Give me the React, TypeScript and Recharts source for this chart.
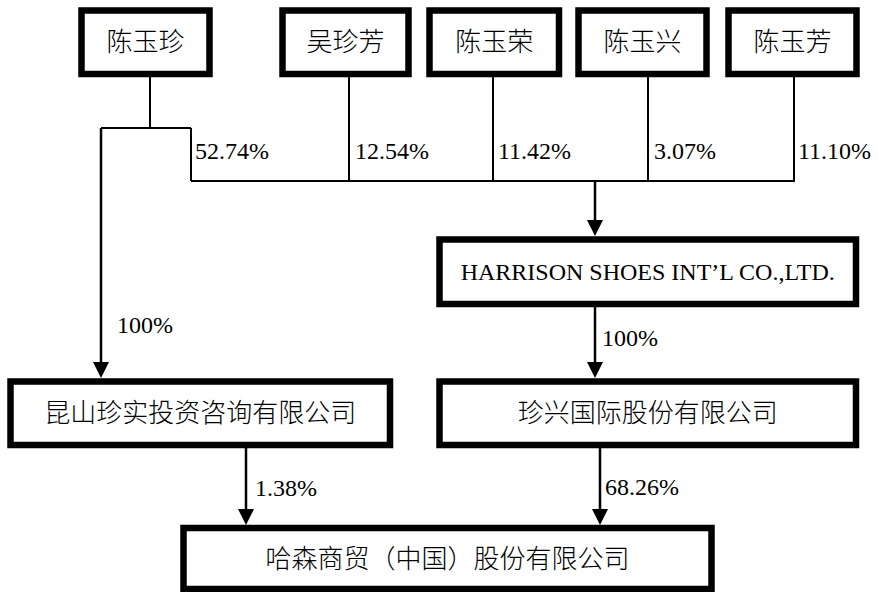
import React from 'react';
import { ScatterChart, Scatter, XAxis, YAxis, ReferenceArea, ReferenceLine } from 'recharts';

// shareholders and their stakes in HARRISON
const ownerNames = ['陈玉珍', '吴珍芳', '陈玉荣', '陈玉兴', '陈玉芳'];
const ownerShares = ['52.74%', '12.54%', '11.42%', '3.07%', '11.10%'];

// companies: HARRISON, 昆山, 珍兴, 哈森
const companyNames = [
  'HARRISON SHOES INT’L CO.,LTD.',
  '昆山珍实投资咨询有限公司',
  '珍兴国际股份有限公司',
  '哈森商贸（中国）股份有限公司',
];
// 陈玉珍→昆山, HARRISON→珍兴, 昆山→哈森, 珍兴→哈森
const holdingShares = ['100%', '100%', '1.38%', '68.26%'];

// layout in diagram units (1 unit = 1px)
const W = 878;
const H = 592;
const ownerBoxX = [[81.5, 209.5], [282.5, 408.5], [429.5, 559], [578.5, 706.5], [728.5, 856.5]];
const ownerBoxY = [10.5, 74];
const ownerDropX = [150, 349, 493, 648, 794];
const ownerLabelX = [195, 355, 498, 654, 798];
const companyBoxes = [
  { x1: 439.5, x2: 856, y1: 239.5, y2: 304 },
  { x1: 10.5, x2: 390, y1: 381.5, y2: 445 },
  { x1: 439.5, x2: 856, y1: 381.5, y2: 445 },
  { x1: 183.5, x2: 711.5, y1: 528, y2: 589 },
];
const holdingLabelPos = [[117, 325], [602, 338], [255, 488], [605, 487]];

const connectors = [
  [150, 77, 150, 128],
  [101, 128, 191, 128],
  [191, 128, 191, 181],
  [191, 181, 795, 181],
  ...ownerDropX.slice(1).map((x) => [x, 77, x, 181]),
];

const arrows = [
  { x: 595, y1: 181, y2: 236 },
  { x: 101, y1: 128, y2: 378 },
  { x: 595, y1: 307, y2: 378 },
  { x: 246, y1: 448, y2: 525 },
  { x: 600, y1: 448, y2: 525 },
];

const shareLabels = [
  ...ownerShares.map((t, i) => ({ x: ownerLabelX[i], y: 151, text: t })),
  ...holdingShares.map((t, i) => ({ x: holdingLabelPos[i][0], y: holdingLabelPos[i][1], text: t })),
];
const arrowTips = arrows.map((a) => ({ x: a.x, y: a.y2 }));

const CJK = "'Noto Sans CJK SC', sans-serif";
const LATIN = "'Liberation Serif', serif";
const BORDER = 6.5;

const Triangle = (props: any) => {
  const { cx, cy } = props;
  return <polygon points={`${cx - 8},${cy - 16} ${cx + 8},${cy - 16} ${cx},${cy}`} fill="#000" />;
};

const ShareText = (props: any) => {
  const { cx, cy, payload } = props;
  return (
    <text
      x={cx}
      y={cy}
      style={{ fontFamily: LATIN, fontSize: 24 }}
      fill="#000"
      textAnchor="start"
      dominantBaseline="central"
    >
      {payload.text}
    </text>
  );
};

export default function App() {
  return (
    <div style={{ width: W, height: H, background: '#fff' }}>
      <style>{'body{margin:0}'}</style>
      <ScatterChart width={W} height={H} margin={{ top: 0, right: 0, bottom: 0, left: 0 }}>
        <XAxis type="number" dataKey="x" domain={[0, W]} allowDataOverflow hide />
        <YAxis type="number" dataKey="y" domain={[0, H]} allowDataOverflow reversed hide />

        {connectors.map((c, i) => (
          <ReferenceLine
            key={`c${i}`}
            segment={[{ x: c[0], y: c[1] }, { x: c[2], y: c[3] }]}
            stroke="#000"
            strokeWidth={2}
          />
        ))}
        {arrows.map((a, i) => (
          <ReferenceLine
            key={`a${i}`}
            segment={[{ x: a.x, y: a.y1 }, { x: a.x, y: a.y2 - 14 }]}
            stroke="#000"
            strokeWidth={2.5}
          />
        ))}

        {ownerNames.map((name, i) => (
          <ReferenceArea
            key={`o${i}`}
            x1={ownerBoxX[i][0]}
            x2={ownerBoxX[i][1]}
            y1={ownerBoxY[0]}
            y2={ownerBoxY[1]}
            stroke="#000"
            strokeWidth={BORDER}
            fill="#fff"
            fillOpacity={1}
            label={{ value: name, position: 'center', fontSize: 26, fontFamily: CJK, fontWeight: 300, fill: '#000' }}
          />
        ))}
        {companyNames.map((name, i) => (
          <ReferenceArea
            key={`b${i}`}
            x1={companyBoxes[i].x1}
            x2={companyBoxes[i].x2}
            y1={companyBoxes[i].y1}
            y2={companyBoxes[i].y2}
            stroke="#000"
            strokeWidth={BORDER}
            fill="#fff"
            fillOpacity={1}
            label={{
              value: name,
              position: 'center',
              fontSize: i === 0 ? 24 : 26,
              fontFamily: i === 0 ? LATIN : CJK,
              fontWeight: i === 0 ? 400 : 300,
              fill: '#000',
            }}
          />
        ))}

        <Scatter data={arrowTips} shape={Triangle} isAnimationActive={false} />
        <Scatter data={shareLabels} shape={ShareText} isAnimationActive={false} />
      </ScatterChart>
    </div>
  );
}
